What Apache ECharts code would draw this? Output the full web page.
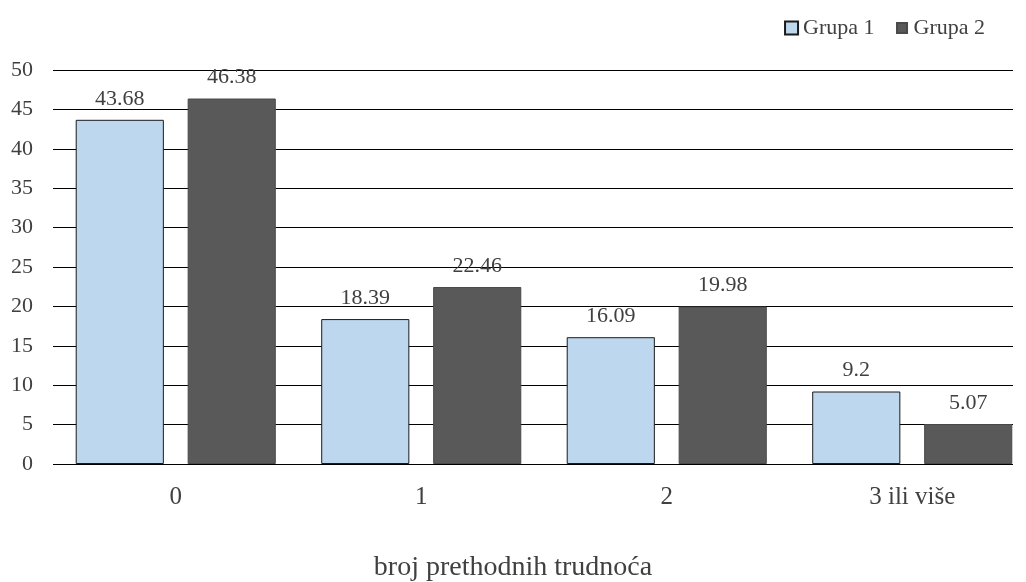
<!DOCTYPE html>
<html><head><meta charset="utf-8">
<script src="https://cdn.jsdelivr.net/npm/echarts@6/dist/echarts.min.js"></script>
<style>html,body{margin:0;padding:0;background:#fff}#c{width:1026px;height:582px}</style>
</head><body><div id="c"></div>
<script>
const categories = ['0', '1', '2', '3 ili više'];
const grupa1 = [43.68, 18.39, 16.09, 9.2];
const grupa2 = [46.38, 22.46, 19.98, 5.07];
const seriesNames = ['Grupa 1', 'Grupa 2'];
const axisTitle = 'broj prethodnih trudnoća';
const yMin = 0, yMax = 50, yStep = 5;
const font = '"Liberation Serif", "Times New Roman", serif';
const txt = '#404040';
const chart = echarts.init(document.getElementById('c'));
chart.setOption({
  animation: false,
  textStyle: {fontFamily: font},
  title: {
    text: axisTitle, left: 'center', top: 554, padding: 0,
    textStyle: {fontFamily: font, fontSize: 28, fontWeight: 'normal', color: txt}
  },
  legend: {
    right: 36, top: 12, itemWidth: 13, itemHeight: 13, itemGap: 20,
    textStyle: {fontFamily: font, fontSize: 22, color: txt},
    data: [
      {name: seriesNames[0], icon: 'rect'},
      {name: seriesNames[1], icon: 'path://M0,0M13,13M1.5,1.5h10v10h-10z'}
    ]
  },
  grid: [
    {left: 53, width: 960, top: 70, height: 394, outerBoundsMode: 'none', containLabel: false},
    {left: 53, width: 982, top: 70, height: 394, outerBoundsMode: 'none', containLabel: false}
  ],
  xAxis: [
    {gridIndex: 0, type: 'category', data: categories, show: false},
    {gridIndex: 1, type: 'category', data: categories,
     axisLine: {show: false}, axisTick: {show: false},
     axisLabel: {fontFamily: font, fontSize: 25, color: txt, margin: 21}}
  ],
  yAxis: [
    {gridIndex: 0, type: 'value', min: yMin, max: yMax, interval: yStep,
     axisLine: {show: false}, axisTick: {show: false},
     splitLine: {lineStyle: {color: '#000', width: 1}},
     axisLabel: {fontFamily: font, fontSize: 22, color: txt, margin: 20}},
    {gridIndex: 1, type: 'value', min: yMin, max: yMax, interval: yStep, show: false,
     splitLine: {show: false}}
  ],
  series: [
    {name: seriesNames[0], type: 'bar', xAxisIndex: 1, yAxisIndex: 1, data: grupa1,
     barGap: '27%', barCategoryGap: '18.5%',
     itemStyle: {color: '#BDD7EE', borderColor: '#1a1a1a', borderWidth: 1},
     label: {show: true, position: 'top', distance: 10, fontFamily: font, fontSize: 22, color: txt}},
    {name: seriesNames[1], type: 'bar', xAxisIndex: 1, yAxisIndex: 1, data: grupa2,
     itemStyle: {color: '#595959', borderColor: '#4a4a4a', borderWidth: 1},
     label: {show: true, position: 'top', distance: 10, fontFamily: font, fontSize: 22, color: txt}}
  ]
});
</script></body></html>
